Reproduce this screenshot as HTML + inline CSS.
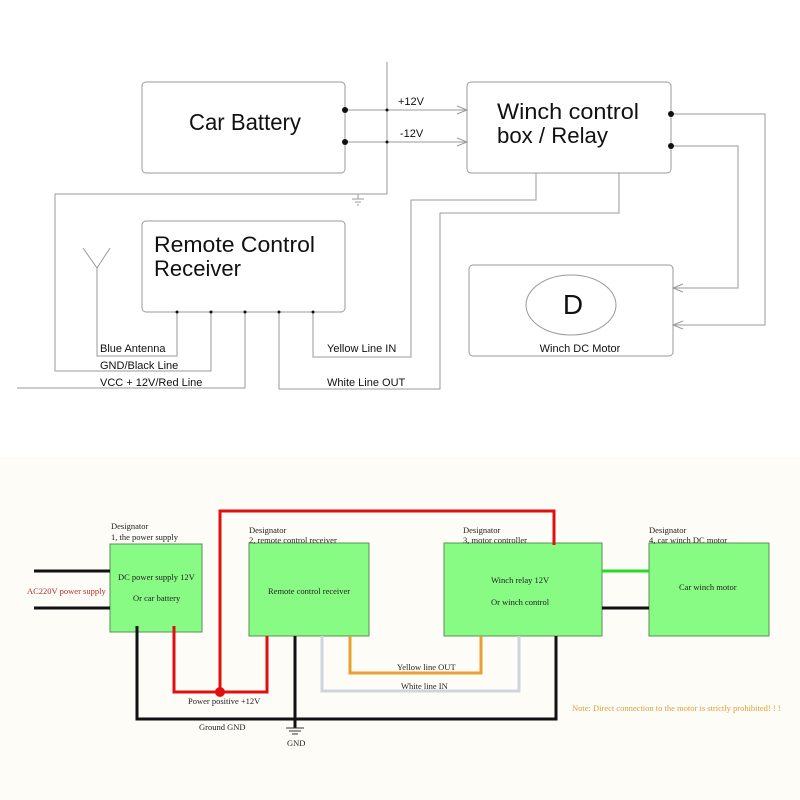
<!DOCTYPE html>
<html><head><meta charset="utf-8"><style>
html,body{margin:0;padding:0;background:#fff}
svg{display:block}
.s{font-family:"Liberation Sans",sans-serif}
.r{font-family:"Liberation Serif",serif}
</style></head><body>
<svg width="800" height="800" viewBox="0 0 800 800" xmlns="http://www.w3.org/2000/svg">
<rect x="0" y="0" width="800" height="457" fill="#fff"/>
<rect x="0" y="457" width="800" height="343" fill="#fdfcf7"/>
<g fill="none" stroke="#9a9a9a" stroke-width="1">
<rect x="142" y="82" width="203" height="91" rx="4"/>
<rect x="142" y="221" width="203" height="91" rx="4"/>
<rect x="467" y="82" width="204" height="91" rx="4"/>
<rect x="469" y="265" width="204" height="91" rx="4"/>
<ellipse cx="571" cy="305" rx="45" ry="30"/>
<path d="M345 110H467M345 142H467"/>
<path d="M457 106L467 110L457 114M457 138L467 142L457 146"/>
<path d="M387 62V194H55V371H211V312"/>
<path d="M352 199H364M355 202H361M357 205H359M358 194V199"/>
<path d="M83 248L97 268L110 248M97 268V356H177V312"/>
<path d="M17 388H245V312"/>
<path d="M279 312V389H440V213H619V173"/>
<path d="M313 312V357H411V200H536V173"/>
<path d="M671 114H765V325H673M671 146H738V288H673"/>
<path d="M683 284L673 288L683 292M683 321L673 325L683 329"/>
</g>
<g fill="#111">
<circle cx="345" cy="110" r="3"/><circle cx="345" cy="142" r="3"/>
<circle cx="387" cy="110" r="1.5"/><circle cx="387" cy="142" r="1.5"/>
<circle cx="671" cy="114" r="3"/><circle cx="671" cy="146" r="3"/>
<circle cx="177" cy="312" r="1.5"/><circle cx="211" cy="312" r="1.5"/><circle cx="245" cy="312" r="1.5"/><circle cx="279" cy="312" r="1.5"/><circle cx="313" cy="312" r="1.5"/>
</g>
<g class="s" fill="#111">
<text x="189" y="130" font-size="23" textLength="112" lengthAdjust="spacingAndGlyphs">Car Battery</text>
<text x="154" y="252" font-size="22" textLength="161" lengthAdjust="spacingAndGlyphs">Remote Control</text>
<text x="154" y="276" font-size="22" textLength="87" lengthAdjust="spacingAndGlyphs">Receiver</text>
<text x="497" y="119" font-size="22" textLength="142" lengthAdjust="spacingAndGlyphs">Winch control</text>
<text x="497" y="143" font-size="22" textLength="111" lengthAdjust="spacingAndGlyphs">box / Relay</text>
<text x="573" y="314" font-size="28" text-anchor="middle">D</text>
<text x="580" y="352" font-size="11" text-anchor="middle">Winch DC Motor</text>
<text x="398" y="105" font-size="11">+12V</text>
<text x="400" y="137" font-size="11">-12V</text>
<text x="100" y="352" font-size="11">Blue Antenna</text>
<text x="100" y="369" font-size="11">GND/Black Line</text>
<text x="100" y="386" font-size="11">VCC + 12V/Red Line</text>
<text x="327" y="352" font-size="11">Yellow Line IN</text>
<text x="327" y="386" font-size="11">White Line OUT</text>
</g>
<g fill="#88fb85" stroke="#5d8f5b" stroke-width="1">
<rect x="110" y="544" width="92" height="88"/>
<rect x="249" y="543" width="120" height="93"/>
<rect x="444" y="543" width="158" height="93"/>
<rect x="649" y="543" width="120" height="93"/>
</g>
<g fill="none" stroke-width="3" stroke-linejoin="miter">
<path d="M34 571H110M34 608H110" stroke="#111"/>
<path d="M174 626V692H267V636M220 692V511H554V545" stroke="#e01010"/>
<path d="M137 626V719H556V636M295 636V728" stroke="#111"/>
<path d="M350 636V673H481V636" stroke="#e8a030"/>
<path d="M322 636V691H519V636" stroke="#d0d4dc"/>
<path d="M602 571H649" stroke="#22dd22"/>
<path d="M602 608H649" stroke="#111"/>
</g>
<circle cx="220" cy="692" r="5" fill="#e01010"/>
<path d="M286 728H304M289 731H301M292 734H298" stroke="#333" stroke-width="1"/>
<g class="r" fill="#222" font-size="8.5">
<text x="111" y="529">Designator</text><text x="111" y="540">1, the power supply</text>
<text x="249" y="533">Designator</text><text x="249" y="543">2, remote control receiver</text>
<text x="463" y="533">Designator</text><text x="463" y="543">3, motor controller</text>
<text x="649" y="533">Designator</text><text x="649" y="543">4, car winch DC motor</text>
<text x="118" y="580">DC power supply 12V</text>
<text x="133" y="601">Or car battery</text>
<text x="268" y="594">Remote control receiver</text>
<text x="491" y="583">Winch relay 12V</text>
<text x="491" y="605">Or winch control</text>
<text x="679" y="590">Car winch motor</text>
<text x="397" y="670">Yellow line  OUT</text>
<text x="401" y="689">White line  IN</text>
<text x="188" y="704">Power positive +12V</text>
<text x="199" y="730">Ground  GND</text>
<text x="287" y="746">GND</text>
<text x="27" y="594" fill="#b03030">AC220V power supply</text>
<text x="572" y="711" fill="#d8a040">Note: Direct connection to the motor is strictly prohibited! ! !</text>
</g>
</svg>
</body></html>
